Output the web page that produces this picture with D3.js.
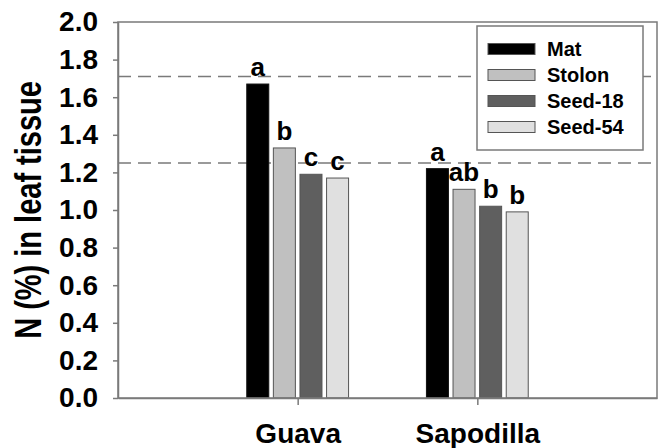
<!DOCTYPE html>
<html>
<head>
<meta charset="utf-8">
<script src="https://cdn.jsdelivr.net/npm/d3@7"></script>
<style>
  body { margin: 0; background: #fff; }
  text { font-family: "Liberation Sans", Arial, sans-serif; font-weight: bold; fill: #000; }
</style>
</head>
<body>
<div id="chart"></div>
<script>
// data
var fruits = ["Guava", "Sapodilla"]
var sources = ["Mat", "Stolon", "Seed-18", "Seed-54"]
var guavaN = [1.67, 1.33, 1.19, 1.17]
var sapodillaN = [1.22, 1.11, 1.02, 0.99]
var guavaLetters = ["a", "b", "c", "c"]
var sapodillaLetters = ["a", "ab", "b", "b"]
var refLines = [1.71, 1.25]
var yTicks = [0, 0.2, 0.4, 0.6, 0.8, 1.0, 1.2, 1.4, 1.6, 1.8, 2.0]
var fills = ["#000000", "#c0c0c0", "#5f5f5f", "#e0e0e0"]

var W = 658, H = 448
var m = { left: 118, right: 1, top: 22, bottom: 50 }

var rows = fruits.map((f, i) => ({
    fruit: f,
    values: i == 0 ? guavaN : sapodillaN,
    letters: i == 0 ? guavaLetters : sapodillaLetters
}))

var svg = d3.select("#chart").append("svg")
    .attr("width", W)
    .attr("height", H)

var x = d3.scalePoint()
    .domain(fruits)
    .range([m.left, W - m.right])
    .padding(1)

var barW = 22, barStep = 26.6
var xs = d3.scaleBand()
    .domain(sources)
    .range([-barStep * 2, barStep * 2])

var y = d3.scaleLinear()
    .domain([0, 2])
    .range([H - m.bottom, m.top])

var grey = "#7a7a7a"

// reference lines (dashed)
svg.append("g")
    .selectAll("line")
    .data(refLines)
    .join("line")
    .attr("x1", m.left)
    .attr("x2", W - m.right)
    .attr("y1", d => y(d))
    .attr("y2", d => y(d))
    .attr("stroke", grey)
    .attr("stroke-width", 1.5)
    .attr("stroke-dasharray", "13,7")

// bars
var groups = svg.append("g")
    .selectAll("g")
    .data(rows)
    .join("g")
    .attr("transform", d => `translate(${x(d.fruit)},0)`)

groups.selectAll("rect")
    .data(d => d.values.map((v, i) => ({ src: sources[i], v: v, i: i })))
    .join("rect")
    .attr("x", d => xs(d.src) + (xs.bandwidth() - barW) / 2)
    .attr("width", barW)
    .attr("y", d => y(d.v))
    .attr("height", d => y(0) - y(d.v))
    .attr("fill", d => fills[d.i])
    .attr("stroke", d => d.i == 0 ? "#111" : "#555")
    .attr("stroke-width", 1)

groups.selectAll("text")
    .data(d => d.letters.map((l, i) => ({ src: sources[i], v: d.values[i], l: l })))
    .join("text")
    .attr("x", d => xs(d.src) + xs.bandwidth() / 2)
    .attr("y", d => y(d.v) - 8)
    .attr("text-anchor", "middle")
    .attr("font-size", 26)
    .text(d => d.l)

// frame
svg.append("rect")
    .attr("x", m.left)
    .attr("y", m.top)
    .attr("width", W - m.right - m.left)
    .attr("height", H - m.bottom - m.top)
    .attr("fill", "none")
    .attr("stroke", grey)
    .attr("stroke-width", 1.5)

// axes
var yAxis = svg.append("g")
    .attr("transform", `translate(${m.left},0)`)
    .call(d3.axisLeft(y).tickValues(yTicks).tickFormat(d3.format(".1f")).tickSizeInner(5).tickSizeOuter(0).tickPadding(15))
yAxis.select(".domain").attr("stroke", grey).attr("stroke-width", 1.5)
yAxis.selectAll(".tick line").attr("stroke", grey).attr("stroke-width", 1.5)
yAxis.selectAll(".tick text").attr("font-size", 28).attr("font-family", null).attr("fill", "#000")

var xAxis = svg.append("g")
    .attr("transform", `translate(0,${H - m.bottom})`)
    .call(d3.axisBottom(x).tickSizeInner(7).tickSizeOuter(0).tickPadding(18))
xAxis.select(".domain").attr("stroke", grey).attr("stroke-width", 1.5)
xAxis.selectAll(".tick line").attr("stroke", grey).attr("stroke-width", 1.5)
xAxis.selectAll(".tick text").attr("font-size", 28).attr("font-family", null).attr("fill", "#000")

// y title (a bit stretched across, as in the original)
svg.append("text")
    .attr("transform", `translate(41,${(m.top + H - m.bottom) / 2}) rotate(-90) scale(1,1.25)`)
    .attr("text-anchor", "middle")
    .attr("font-size", 29)
    .text("N (%) in leaf tissue")

// legend
var lg = svg.append("g").attr("transform", "translate(477,26)")
lg.append("rect")
    .attr("width", 166)
    .attr("height", 124)
    .attr("fill", "#fff")
    .attr("stroke", grey)
    .attr("stroke-width", 1.5)
var items = lg.selectAll("g")
    .data(sources)
    .join("g")
    .attr("transform", (d, i) => `translate(0,${23 + i * 26})`)
items.append("rect")
    .attr("x", 11)
    .attr("y", -5.5)
    .attr("width", 47)
    .attr("height", 11)
    .attr("fill", (d, i) => fills[i])
    .attr("stroke", "#555")
items.append("text")
    .attr("x", 70)
    .attr("y", 7)
    .attr("font-size", 20)
    .text(d => d)
</script>
</body>
</html>
